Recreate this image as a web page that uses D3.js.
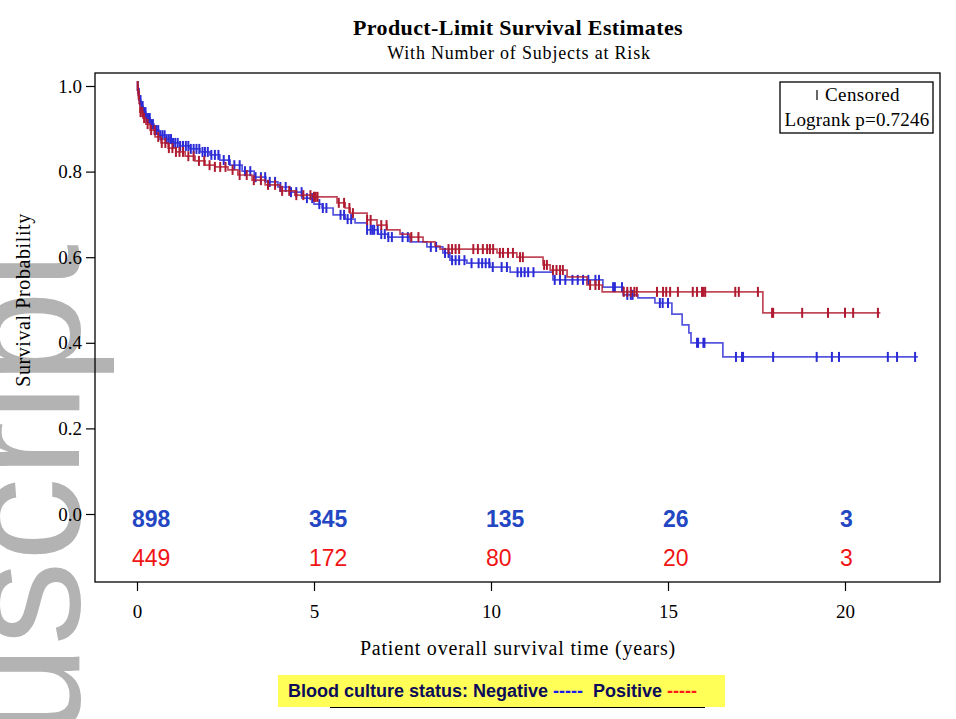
<!DOCTYPE html>
<html>
<head>
<meta charset="utf-8">
<script src="https://cdn.jsdelivr.net/npm/d3@7"></script>
<style>
  body { margin: 0; background: #fff; }
  text { white-space: pre; }
</style>
</head>
<body>
<div id="chart"></div>
<script>
/* Product-limit survival estimates by blood culture status */

// Negative group: step times (years) and survival after each step
const negTimes = [0, 0.03, 0.06, 0.11, 0.17, 0.25, 0.37, 0.48, 0.62, 0.79, 0.99, 1.21, 1.5, 1.78, 2.06, 2.34, 2.63, 2.97,
  3.31, 3.64, 3.98, 4.32, 4.66, 5.0, 5.23, 5.54, 5.88, 6.16, 6.5, 6.81, 7.09, 7.71, 8.19, 8.64, 8.84, 9.32, 9.97, 10.54,
  11.75, 13.16, 13.73, 14.15, 14.63, 15.11, 15.4, 15.59, 15.65, 16.55];
const negSurv = [1.0, 0.984, 0.967, 0.953, 0.939, 0.925, 0.911, 0.897, 0.885, 0.876, 0.867, 0.86, 0.853, 0.846, 0.839, 0.827, 0.815, 0.801,
  0.787, 0.776, 0.764, 0.752, 0.738, 0.724, 0.715, 0.699, 0.689, 0.68, 0.664, 0.654, 0.647, 0.636, 0.624, 0.61, 0.593, 0.586, 0.577, 0.565,
  0.547, 0.53, 0.512, 0.505, 0.493, 0.467, 0.442, 0.423, 0.40, 0.367];
const negEnd = 22.06;
const negCensor = [0.02, 0.05, 0.08, 0.1, 0.13, 0.16, 0.2, 0.24, 0.28, 0.32, 0.36, 0.4, 0.45, 0.5, 0.55, 0.6, 0.66, 0.72, 0.78, 0.84, 0.9, 0.96,
  1.02, 1.08, 1.15, 1.22, 1.3, 1.38, 1.45, 1.52, 1.6, 1.68, 1.76, 1.85, 1.92, 2.0, 2.1, 2.2, 2.3, 2.45, 2.6, 2.75, 2.9,
  3.05, 3.2, 3.35, 3.5, 3.62, 3.75, 3.9, 4.05, 4.2, 4.35, 4.5, 4.65, 4.8, 4.95,
  5.15, 5.25, 5.35, 5.75, 5.85, 5.95, 6.05, 6.5, 6.6, 6.65, 6.7, 6.8, 6.9, 7.0, 7.1, 7.2, 7.5, 7.65, 8.3, 8.45, 8.7, 8.8, 8.9, 9.0, 9.1,
  9.25, 9.45, 9.65, 9.75, 9.85, 9.95, 10.05, 10.3, 10.45, 10.75, 10.85, 10.95, 11.05, 11.2, 11.8, 11.95, 12.1, 12.3, 12.45, 12.6, 12.75,
  12.95, 13.05, 13.45, 13.5, 13.7, 13.85, 13.95, 14.0, 14.77, 14.85, 15.0, 15.82, 15.85, 16.0, 16.03, 16.92, 17.09, 17.12, 17.97,
  19.2, 19.63, 19.83, 21.21, 21.47, 21.98];

// Positive group
const posTimes = [0, 0.03, 0.06, 0.08, 0.17, 0.25, 0.37, 0.51, 0.68, 0.88, 1.1, 1.36, 1.64, 1.92, 2.2, 2.57, 2.85, 3.25, 3.62,
  4.04, 4.46, 4.97, 5.65, 5.88, 6.02, 6.5, 6.78, 7.06, 7.43, 7.71, 8.08, 8.42, 8.56, 10.17, 10.73, 11.47, 11.67, 12.15, 12.71, 13.14, 17.68];
const posSurv = [1.0, 0.979, 0.96, 0.939, 0.925, 0.911, 0.897, 0.881, 0.867, 0.855, 0.846, 0.836, 0.825, 0.815, 0.811, 0.804, 0.792, 0.78, 0.769,
  0.755, 0.745, 0.741, 0.727, 0.715, 0.703, 0.687, 0.675, 0.664, 0.654, 0.647, 0.636, 0.626, 0.619, 0.61, 0.6, 0.582, 0.57, 0.554, 0.535, 0.519, 0.47];
const posEnd = 21.0;
const posCensor = [0.02, 0.05, 0.1, 0.15, 0.2, 0.3, 0.4, 0.5, 0.6, 0.7, 0.8, 0.9, 1.0, 1.1, 1.2, 1.3, 1.45, 1.6, 1.75, 1.9,
  2.05, 2.2, 2.35, 2.5, 2.7, 2.9, 3.1, 3.3, 3.5, 3.7, 3.9, 4.1, 4.3, 4.5, 4.7, 4.9,
  5.0, 5.05, 5.1, 5.7, 5.85, 6.0, 6.1, 6.5, 6.6, 6.9, 7.05, 7.75, 7.95, 8.8, 8.9, 9.0, 9.1, 9.5, 9.63, 9.77, 9.89, 9.97, 10.06,
  10.25, 10.34, 10.48, 10.62, 10.82, 10.9, 11.5, 11.58, 11.75, 11.85, 11.95, 12.03, 12.8, 12.95, 13.05, 13.75, 13.85, 13.95, 14.05,
  14.12, 14.69, 14.86, 14.95, 15.06, 15.28, 15.7, 15.82, 15.96, 16.0, 16.05, 16.9, 17.0, 17.54, 17.94, 17.97, 18.79, 19.52, 20.0,
  20.23, 20.93];

// Number at risk
const riskTimes = [0, 5, 10, 15, 20];
const riskNeg = [898, 345, 135, 26, 3];
const riskPos = [449, 172, 80, 20, 3];

const xTicks = [0, 5, 10, 15, 20];
const yTicks = [0, 0.2, 0.4, 0.6, 0.8, 1.0];

const width = 956, height = 719;
const frame = { left: 95, top: 73, right: 940, bottom: 582 };
const blue = "#2a2ad6", red = "#b01a30";
const serif = "'Liberation Serif', 'Times New Roman', serif";
const sans = "'Liberation Sans', Arial, sans-serif";

let svg = d3.select("#chart")
    .append("svg")
    .attr("width", width)
    .attr("height", height);

// watermark, behind everything else
svg.append("text")
    .attr("transform", "translate(79,244) rotate(-90)")
    .attr("text-anchor", "end")
    .attr("font-family", sans)
    .attr("font-size", 168)
    .attr("fill", "#b3b3b3")
    .text("uscript");

let x = d3.scaleLinear()
    .domain([0, 20])
    .range([137, 845]);

let y = d3.scaleLinear()
    .domain([0, 1])
    .range([514, 86]);

// titles
svg.append("text")
    .attr("x", 518).attr("y", 35)
    .attr("text-anchor", "middle")
    .attr("font-family", serif)
    .attr("font-weight", "bold")
    .attr("font-size", 22)
    .attr("letter-spacing", 0.4)
    .text("Product-Limit Survival Estimates");

svg.append("text")
    .attr("x", 519).attr("y", 59)
    .attr("text-anchor", "middle")
    .attr("font-family", serif)
    .attr("font-size", 18)
    .attr("letter-spacing", 0.8)
    .text("With Number of Subjects at Risk");

// axes
let yAxis = svg.append("g")
    .attr("transform", `translate(${frame.left},0)`)
    .call(d3.axisLeft(y).tickValues(yTicks).tickFormat(d3.format(".1f")).tickSize(9).tickPadding(4));

let xAxis = svg.append("g")
    .attr("transform", `translate(0,${frame.bottom})`)
    .call(d3.axisBottom(x).tickValues(xTicks).tickSize(9).tickPadding(14));

for (let ax of [yAxis, xAxis]) {
    ax.select(".domain").remove();
    ax.selectAll("text")
        .attr("font-family", serif)
        .attr("font-size", 19)
        .attr("fill", "#000");
    ax.selectAll("line").attr("stroke", "#000").attr("stroke-width", 1.2);
}

// plot frame
svg.append("rect")
    .attr("x", frame.left).attr("y", frame.top)
    .attr("width", frame.right - frame.left)
    .attr("height", frame.bottom - frame.top)
    .attr("fill", "none")
    .attr("stroke", "#000")
    .attr("stroke-width", 1.3);

svg.append("text")
    .attr("transform", "translate(30,300) rotate(-90)")
    .attr("text-anchor", "middle")
    .attr("font-family", serif)
    .attr("font-size", 20)
    .attr("letter-spacing", 0.6)
    .text("Survival Probability");

svg.append("text")
    .attr("x", 518).attr("y", 655)
    .attr("text-anchor", "middle")
    .attr("font-family", serif)
    .attr("font-size", 20)
    .attr("letter-spacing", 0.8)
    .text("Patient overall survival time (years)");

// survival curves
const groups = [
    { times: negTimes, surv: negSurv, end: negEnd, censor: negCensor, color: blue },
    { times: posTimes, surv: posSurv, end: posEnd, censor: posCensor, color: red }
];

let line = d3.line()
    .x(d => x(d[0]))
    .y(d => y(d[1]))
    .curve(d3.curveStepAfter);

for (let g of groups) {
    let pts = g.times.map((t, i) => [t, g.surv[i]]);
    pts.push([g.end, g.surv[g.surv.length - 1]]);

    svg.append("path")
        .datum(pts)
        .attr("fill", "none")
        .attr("stroke", g.color)
        .attr("stroke-width", 1.7)
        .attr("stroke-opacity", 0.8)
        .attr("d", line);

    // censor marks sit on the curve value at that time
    let survAt = t => g.surv[Math.max(0, d3.bisectRight(g.times, t) - 1)];
    svg.append("g")
        .selectAll("line")
        .data(g.censor)
        .join("line")
        .attr("x1", d => x(d)).attr("x2", d => x(d))
        .attr("y1", d => y(survAt(d)) - 5)
        .attr("y2", d => y(survAt(d)) + 5)
        .attr("stroke", g.color)
        .attr("stroke-width", 2);
}

// numbers at risk
svg.append("g")
    .selectAll("text")
    .data(riskNeg)
    .join("text")
    .attr("x", (d, i) => x(riskTimes[i]) - 5)
    .attr("y", 527)
    .attr("font-family", sans)
    .attr("font-weight", "bold")
    .attr("font-size", 23)
    .attr("fill", "#2346c2")
    .text(d => d);

svg.append("g")
    .selectAll("text")
    .data(riskPos)
    .join("text")
    .attr("x", (d, i) => x(riskTimes[i]) - 5)
    .attr("y", 566)
    .attr("font-family", sans)
    .attr("font-size", 23)
    .attr("fill", "#f01414")
    .text(d => d);

// censored / logrank box
let box = svg.append("g");
box.append("rect")
    .attr("x", 780).attr("y", 82)
    .attr("width", 153).attr("height", 51)
    .attr("fill", "#fff")
    .attr("stroke", "#000")
    .attr("stroke-width", 1.3);
box.append("line")
    .attr("x1", 817).attr("x2", 817)
    .attr("y1", 90).attr("y2", 100)
    .attr("stroke", "#000")
    .attr("stroke-width", 1.2);
box.append("text")
    .attr("x", 825).attr("y", 101)
    .attr("font-family", serif)
    .attr("font-size", 19)
    .attr("letter-spacing", 0.4)
    .text("Censored");
box.append("text")
    .attr("x", 857).attr("y", 126)
    .attr("text-anchor", "middle")
    .attr("font-family", serif)
    .attr("font-size", 19)
    .attr("letter-spacing", 0.2)
    .text("Logrank p=0.7246");

// blood culture legend strip
svg.append("rect")
    .attr("x", 278).attr("y", 675)
    .attr("width", 447).attr("height", 32)
    .attr("fill", "#ffff57");
svg.append("line")
    .attr("x1", 330).attr("x2", 705)
    .attr("y1", 707.5).attr("y2", 707.5)
    .attr("stroke", "#000")
    .attr("stroke-width", 1.2);

let legend = svg.append("text")
    .attr("x", 288).attr("y", 697)
    .attr("font-family", sans)
    .attr("font-weight", "bold")
    .attr("font-size", 18)
    .attr("fill", "#0c0c5a");
legend.append("tspan").text("Blood culture status: Negative ");
legend.append("tspan").attr("fill", "#1a1aee").text("-----");
legend.append("tspan").text("  Positive ");
legend.append("tspan").attr("fill", "#ff1a1a").text("-----");
</script>
</body>
</html>
